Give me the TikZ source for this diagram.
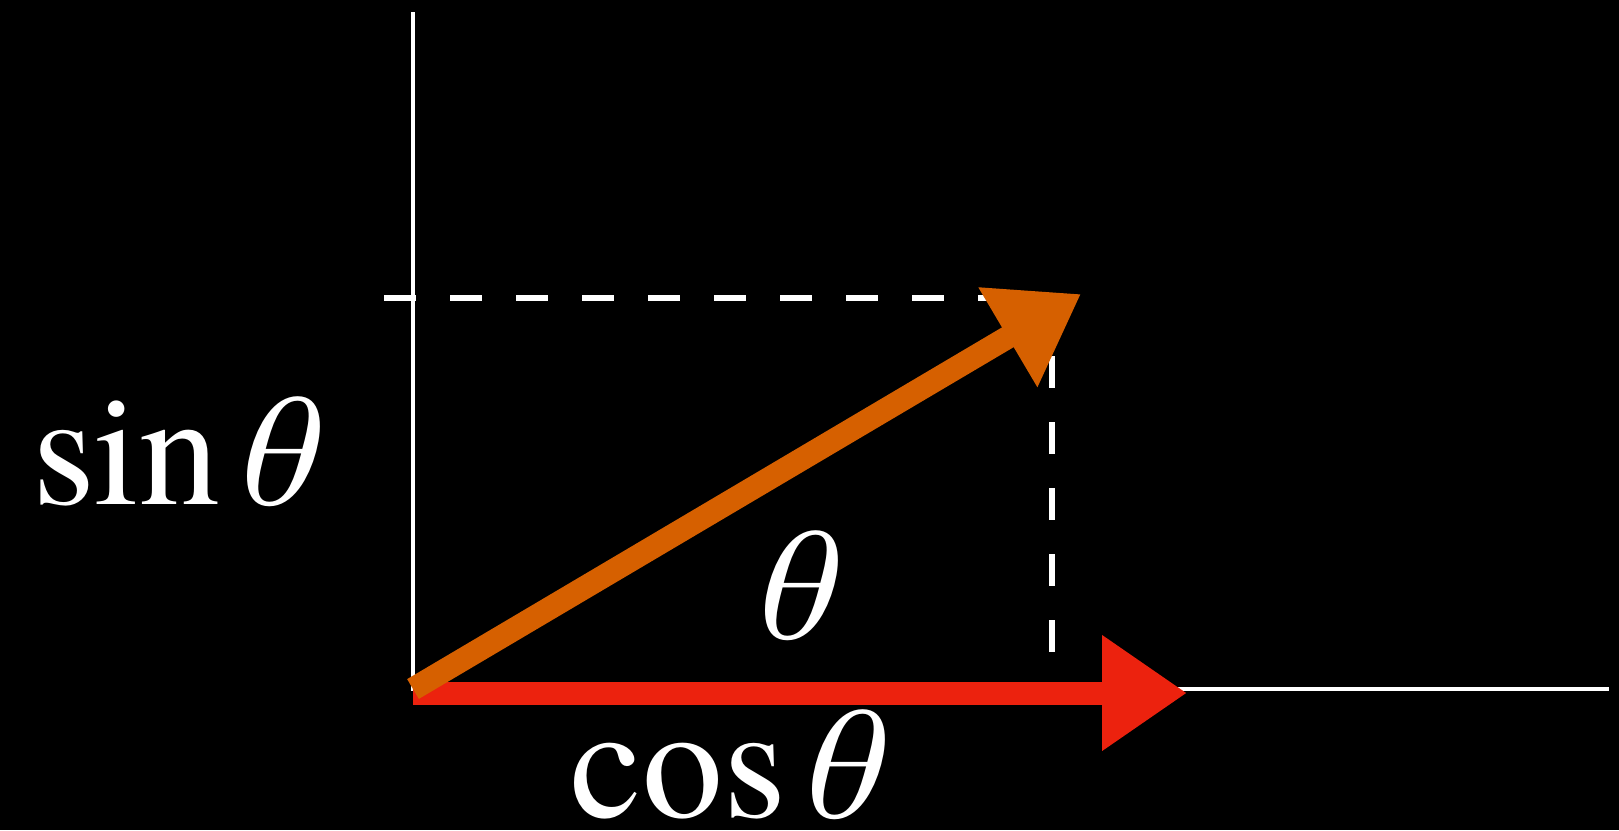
\documentclass[tikz,border=0pt]{standalone}
\usepackage{fontspec}
\setmainfont{TeX Gyre Termes}
\usepackage{xcolor}
\usepackage{tikz}
\usetikzlibrary{arrows.meta,positioning}
\definecolor{chalkorange}{RGB}{214,96,0}
\definecolor{chalkred}{RGB}{236,34,14}
\tikzstyle{axis}=[
white,
line width=1.4pt
]
\tikzstyle{guide}=[
white,
line width=1.6pt,
dash pattern=on 0.32cm off 0.34cm
]
\tikzstyle{vec}=[
line width=0.23cm,
-{Triangle[length=0.85cm,width=1.1cm]}
]
\tikzstyle{label}=[
white,
inner sep=0pt,
font=\fontsize{46}{54}\selectfont
]

\begin{document}
\begin{tikzpicture}

\fill[black] (0,0) rectangle (16.19,8.30);
\useasboundingbox (0,0) rectangle (16.19,8.30);

\coordinate (origin) at (4.13,1.41);
\coordinate (ytop) at (4.13,8.18);
\coordinate (xend) at (16.09,1.41);
\coordinate (corner) at (10.52,5.32);
\coordinate (yleft) at (3.84,5.32);
\coordinate (foot) at (10.52,1.41);
\coordinate (tip) at (10.81,5.36);
\coordinate (start) at (4.13,1.37);
\coordinate (costip) at (11.87,1.37);

\draw [axis] (ytop) -- (origin) -- (xend);
\draw [guide] (yleft) -- (corner) -- (foot);

\draw [vec, chalkred] (start) -- (costip);
\draw [vec, chalkorange] (origin) -- (tip);

\node (sinlabel) [label] at (1.78,3.78) {sin\hspace{0.06em}\textit{θ}};
\node (anglelabel) [label] at (7.95,2.44) {\textit{θ}};
\node (coslabel) [label] at (7.30,0.65) {cos\hspace{0.06em}\textit{θ}};

\end{tikzpicture}
\end{document}
